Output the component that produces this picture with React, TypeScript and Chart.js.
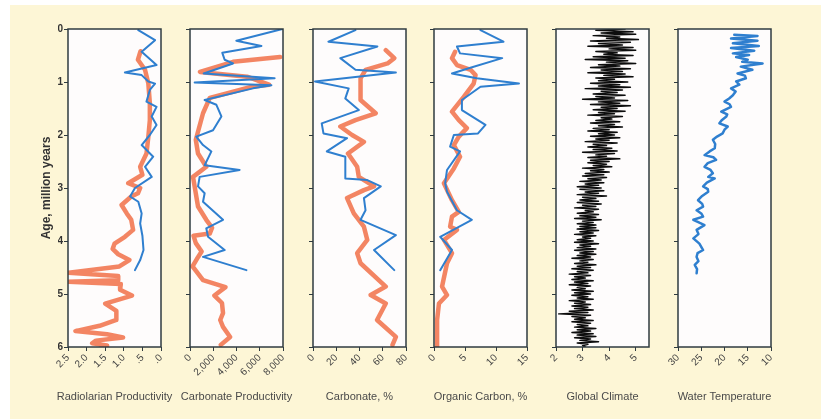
import React, { useEffect, useRef } from 'react';
import { Chart, registerables } from 'chart.js';
Chart.register(...registerables);

// ---------- Data ----------
const AGE_TICKS = [0, 1, 2, 3, 4, 5, 6];

// Panel 1: Radiolarian productivity
const radBlueAge = [0.02, 0.21, 0.43, 0.68, 0.82, 0.87, 0.99, 1.03, 1.15, 1.37, 1.47, 1.65, 1.81, 2.0, 2.19, 2.41, 2.6, 2.79, 3.0, 3.16, 3.26, 3.48, 3.67, 3.9, 4.17, 4.36, 4.55];
const radBlueVal = [0.61, 0.16, 0.52, 0.12, 0.97, 0.52, 0.34, 0.16, 0.30, 0.39, 0.12, 0.25, 0.12, 0.30, 0.52, 0.21, 0.43, 0.25, 0.70, 0.83, 0.61, 0.52, 0.56, 0.50, 0.47, 0.56, 0.70];
const radOrangeAge = [0.42, 0.58, 0.77, 1.03, 1.4, 1.72, 2.03, 2.35, 2.6, 2.75, 2.91, 3.0, 3.1, 3.16, 3.32, 3.48, 3.6, 3.79, 3.92, 4.05, 4.15, 4.25, 4.36, 4.48, 4.6, 4.66, 4.74, 4.77, 4.81, 4.92, 5.03, 5.18, 5.32, 5.49, 5.6, 5.7, 5.76, 5.82, 5.88, 5.93, 5.97, 6.0];
const radOrangeVal = [0.55, 0.62, 0.43, 0.34, 0.30, 0.30, 0.34, 0.39, 0.56, 0.50, 0.88, 0.56, 0.62, 0.80, 1.06, 0.92, 0.80, 0.75, 0.97, 1.25, 1.30, 1.15, 0.85, 1.12, 2.48, 1.15, 1.15, 2.48, 1.08, 1.10, 0.78, 1.50, 1.20, 1.20, 1.65, 2.30, 1.45, 1.02, 1.75, 1.85, 1.45, 1.60];
const radTicks = [2.5, 2.0, 1.5, 1.0, 0.5, 0];
const radLabels = ['2.5', '2.0', '1.5', '1.0', '.5', '.0'];

// Panel 2: Carbonate productivity
const cpBlueAge = [0.0, 0.22, 0.32, 0.45, 0.58, 0.65, 0.84, 0.93, 1.01, 1.06, 1.12, 1.34, 1.43, 1.65, 1.91, 2.03, 2.19, 2.31, 2.57, 2.66, 2.79, 2.97, 3.10, 3.26, 3.60, 3.76, 3.92, 4.17, 4.30, 4.55];
const cpBlueVal = [7950, 3990, 6140, 2780, 2980, 3700, 1180, 7280, 400, 7000, 5420, 1260, 2270, 2700, 1980, 540, 1120, 1840, 1260, 4270, 830, 690, 1260, 1120, 2840, 1400, 1550, 2980, 1120, 4850];
const cpOrangeAge = [0.53, 0.62, 0.81, 0.90, 1.05, 1.09, 1.30, 1.59, 2.09, 2.35, 2.60, 2.79, 3.35, 3.60, 3.75, 3.86, 3.90, 4.04, 4.20, 4.30, 4.48, 4.74, 4.87, 5.03, 5.17, 5.36, 5.49, 5.62, 5.81, 5.96];
const cpOrangeVal = [7750, 3700, 860, 4900, 6800, 5330, 1700, 1120, 500, 690, 1400, 260, 690, 1400, 1900, 1700, 300, 500, 1000, 700, 220, 1120, 3050, 2100, 2750, 2840, 2600, 2840, 3450, 2650];
const cpTicks = [0, 2000, 4000, 6000, 8000];
const cpLabels = ['0', '2,000', '4,000', '6,000', '8,000'];

// Panel 3: Carbonate %
const caBlueAge = [0.02, 0.24, 0.33, 0.55, 0.77, 0.82, 0.99, 1.12, 1.31, 1.53, 1.78, 1.97, 2.06, 2.31, 2.41, 2.82, 2.85, 2.97, 3.19, 3.42, 3.60, 3.89, 4.17, 4.55];
const caBlueVal = [36.5, 13.3, 55.4, 23.5, 36.5, 71.3, 1.7, 30.7, 27.8, 39.4, 7.5, 9.0, 29.3, 11.9, 27.8, 27.8, 46.7, 58.3, 43.8, 45.2, 40.9, 71.3, 52.5, 69.9];
const caOrangeAge = [0.40, 0.55, 0.65, 0.77, 0.93, 1.34, 1.59, 1.72, 1.84, 2.0, 2.13, 2.35, 2.60, 2.79, 2.97, 3.04, 3.19, 3.48, 3.73, 3.98, 4.23, 4.42, 4.86, 5.02, 5.18, 5.49, 5.81, 5.96];
const caOrangeVal = [62.6, 69.9, 64.1, 45.2, 40.9, 40.9, 53.9, 36.5, 23.5, 33.6, 43.8, 30.1, 38.0, 39.4, 52.5, 43.8, 29.3, 35.1, 43.8, 46.7, 38.0, 40.9, 62.6, 49.6, 62.6, 55.1, 71.3, 68.4];
const caTicks = [0, 20, 40, 60, 80];
const caLabels = ['0', '20', '40', '60', '80'];

// Panel 4: Organic carbon %
const ocBlueAge = [0.02, 0.24, 0.33, 0.46, 0.55, 0.74, 0.84, 0.93, 1.03, 1.09, 1.34, 1.53, 1.81, 1.97, 2.0, 2.22, 2.31, 2.66, 2.91, 3.07, 3.42, 3.60, 3.92, 4.17, 4.55];
const ocBlueVal = [7.5, 11.2, 3.7, 4.2, 11.0, 5.6, 2.9, 6.9, 13.7, 7.5, 4.5, 4.5, 8.3, 7.1, 3.2, 2.6, 4.2, 2.1, 1.8, 2.1, 3.7, 6.1, 1.0, 2.9, 1.0];
const ocOrangeAge = [0.43, 0.55, 0.68, 0.77, 0.87, 1.03, 1.28, 1.56, 1.72, 1.87, 2.03, 2.19, 2.41, 2.63, 2.91, 3.23, 3.45, 3.54, 3.73, 3.79, 3.98, 4.23, 4.42, 4.86, 5.02, 5.18, 5.49, 5.87, 5.98];
const ocOrangeVal = [3.4, 2.9, 3.7, 5.9, 6.7, 6.4, 4.8, 2.9, 4.0, 5.3, 4.0, 3.2, 4.2, 3.2, 1.6, 2.9, 4.0, 2.9, 2.6, 3.7, 1.6, 2.9, 2.1, 1.3, 2.1, 0.8, 0.5, 0.5, 0.5];
const ocTicks = [0, 5, 10, 15];
const ocLabels = ['0', '5', '10', '15'];

// Panel 5: Global climate (sampled every 0.025 Myr from 0 to 6)
const CLIMATE_STEP = 0.025;
const climateVal = [
  4.6, 3.5, 4.9, 3.7, 5.0, 3.4, 4.4, 3.9, 5.1, 3.3,
  4.8, 3.6, 4.5, 3.2, 4.9, 4.0, 5.0, 3.5, 4.3, 3.8,
  4.9, 3.4, 4.6, 3.1, 4.7, 3.9, 5.0, 3.6, 4.4, 3.3,
  4.8, 3.7, 4.5, 3.2, 4.6, 3.8, 4.9, 3.5, 4.2, 3.6,
  4.7, 3.3, 4.4, 3.6, 4.8, 3.1, 4.5, 3.7, 4.3, 3.4,
  4.6, 3.5, 4.2, 3.0, 4.7, 3.6, 4.4, 3.3, 4.8, 3.7,
  4.3, 3.4, 4.6, 3.6, 4.2, 3.2, 4.5, 3.7, 4.1, 3.5,
  4.4, 3.3, 4.2, 3.6, 4.5, 3.4, 4.0, 3.2, 4.3, 3.6,
  4.2, 3.3, 4.4, 3.5, 4.0, 3.1, 4.3, 3.4, 3.9, 3.2,
  4.1, 3.4, 4.3, 3.0, 4.2, 3.5, 3.9, 3.2, 4.4, 3.3,
  4.0, 3.2, 3.9, 3.4, 4.1, 3.0, 3.8, 3.3, 4.0, 3.1,
  3.8, 3.0, 3.9, 3.2, 3.7, 2.9, 3.8, 3.1, 3.6, 2.8,
  3.7, 2.9, 3.8, 3.1, 3.6, 2.8, 3.9, 3.0, 3.5, 2.9,
  3.6, 2.8, 3.7, 3.0, 3.5, 2.7, 3.6, 3.1, 3.4, 2.8,
  3.6, 2.9, 3.5, 2.7, 3.7, 3.0, 3.4, 2.8, 3.5, 2.9,
  3.5, 2.8, 3.6, 2.9, 3.4, 2.7, 3.5, 3.0, 3.3, 2.8,
  3.4, 2.7, 3.6, 2.9, 3.3, 2.8, 3.5, 2.7, 3.4, 2.9,
  3.5, 2.8, 3.3, 2.6, 3.4, 2.9, 3.2, 2.7, 3.5, 2.8,
  3.3, 2.6, 3.4, 2.8, 3.2, 2.5, 3.3, 2.7, 3.1, 2.6,
  3.4, 2.7, 3.2, 2.5, 3.3, 2.8, 3.1, 2.6, 3.4, 2.7,
  3.3, 2.6, 3.2, 2.8, 3.4, 2.5, 3.1, 2.7, 3.3, 2.6,
  3.2, 2.7, 3.4, 2.5, 3.2, 2.1, 3.3, 2.6, 3.1, 2.7,
  3.4, 2.6, 3.3, 2.8, 3.2, 2.7, 3.5, 2.8, 3.3, 2.6,
  3.4, 2.8, 3.5, 2.7, 3.3, 2.9, 3.6, 2.8, 3.2, 3.0,
  3.1,
];
const climateTicks = [2, 3, 4, 5];
const climateLabels = ['2', '3', '4', '5'];

// Panel 6: Water temperature
const wtAge = [0.11, 0.13, 0.18, 0.22, 0.27, 0.32, 0.36, 0.41, 0.46, 0.49, 0.53, 0.58, 0.62, 0.65, 0.71, 0.77, 0.84, 0.88, 0.93, 0.99, 1.05, 1.12, 1.18, 1.25, 1.31, 1.37, 1.42, 1.47, 1.52, 1.56, 1.61, 1.65, 1.72, 1.78, 1.84, 1.90, 1.97, 2.03, 2.09, 2.17, 2.25, 2.31, 2.38, 2.42, 2.47, 2.53, 2.60, 2.66, 2.72, 2.79, 2.82, 2.90, 2.97, 3.02, 3.07, 3.15, 3.23, 3.30, 3.35, 3.42, 3.48, 3.54, 3.60, 3.66, 3.70, 3.79, 3.87, 3.95, 4.05, 4.17, 4.23, 4.30, 4.38, 4.45, 4.53, 4.61];
const wtVal = [17.9, 12.9, 18.6, 12.9, 18.2, 12.6, 18.6, 13.6, 18.2, 14.7, 17.5, 15.0, 16.2, 11.8, 16.5, 14.0, 17.2, 15.6, 15.4, 17.5, 16.8, 18.6, 17.6, 18.2, 19.0, 20.0, 18.9, 18.6, 19.8, 20.7, 19.4, 19.6, 20.6, 21.1, 19.3, 20.0, 20.4, 21.6, 22.5, 22.0, 22.1, 23.2, 24.3, 22.4, 21.8, 23.6, 24.3, 23.0, 22.5, 23.5, 22.1, 23.8, 24.6, 23.6, 23.5, 24.8, 25.7, 24.8, 24.6, 26.0, 25.0, 24.6, 26.7, 25.3, 24.3, 26.0, 25.6, 26.7, 25.4, 24.6, 25.8, 26.0, 25.6, 26.4, 25.9, 26.0];
const wtTicks = [30, 25, 20, 15, 10];
const wtLabels = ['30', '25', '20', '15', '10'];

// ---------- Layout / style ----------
const PANEL_TOP = 29;
const PANEL_BOTTOM = 347;
const PANEL_W = 93;
const CANVAS_H = 419;
const SIDE = 50;
const Y_TITLE_X = 47;
const ORANGE = 'rgba(241,112,72,0.85)';
const BLUE = '#2f7fcf';
const FRAME = '#2f3b40';
const FONT = 'Arial, "Liberation Sans", sans-serif';

const pts = (ages: number[], vals: number[]) => ages.map((a, i) => ({ x: vals[i], y: a }));

type Series = { data: { x: number; y: number }[]; color: string; width: number };
type PanelCfg = {
  left: number; min: number; max: number; reverse: boolean;
  ticks: number[]; labels: string[]; title: string; yLabels: boolean; series: Series[];
};

const panels: PanelCfg[] = [
  { left: 68, min: 0, max: 2.5, reverse: true, ticks: radTicks, labels: radLabels, title: 'Radiolarian Productivity', yLabels: true,
    series: [{ data: pts(radBlueAge, radBlueVal), color: BLUE, width: 2 }, { data: pts(radOrangeAge, radOrangeVal), color: ORANGE, width: 4.5 }] },
  { left: 190, min: 0, max: 8000, reverse: false, ticks: cpTicks, labels: cpLabels, title: 'Carbonate Productivity', yLabels: false,
    series: [{ data: pts(cpBlueAge, cpBlueVal), color: BLUE, width: 2 }, { data: pts(cpOrangeAge, cpOrangeVal), color: ORANGE, width: 4.5 }] },
  { left: 313, min: 0, max: 80, reverse: false, ticks: caTicks, labels: caLabels, title: 'Carbonate, %', yLabels: false,
    series: [{ data: pts(caBlueAge, caBlueVal), color: BLUE, width: 2 }, { data: pts(caOrangeAge, caOrangeVal), color: ORANGE, width: 4.5 }] },
  { left: 434, min: 0, max: 15, reverse: false, ticks: ocTicks, labels: ocLabels, title: 'Organic Carbon, %', yLabels: false,
    series: [{ data: pts(ocBlueAge, ocBlueVal), color: BLUE, width: 2 }, { data: pts(ocOrangeAge, ocOrangeVal), color: ORANGE, width: 4.5 }] },
  { left: 556, min: 2, max: 5.5, reverse: false, ticks: climateTicks, labels: climateLabels, title: 'Global Climate', yLabels: false,
    series: [{ data: climateVal.map((v, i) => ({ x: v, y: i * CLIMATE_STEP })), color: 'rgba(0,0,0,0.95)', width: 1.5 }] },
  { left: 678, min: 10, max: 30, reverse: true, ticks: wtTicks, labels: wtLabels, title: 'Water Temperature', yLabels: false,
    series: [{ data: pts(wtAge, wtVal), color: BLUE, width: 2.5 }] },
];

const framePlugin = {
  id: 'panelFrame',
  beforeDraw(chart: any) {
    const { ctx, chartArea: a } = chart;
    ctx.save();
    ctx.fillStyle = '#fefcfc';
    ctx.fillRect(a.left, a.top, a.right - a.left, a.bottom - a.top);
    ctx.restore();
  },
  afterDraw(chart: any, _args: any, opts: any) {
    const { ctx, chartArea: a } = chart;
    ctx.save();
    ctx.strokeStyle = FRAME;
    ctx.lineWidth = 1.5;
    ctx.strokeRect(a.left, a.top, a.right - a.left, a.bottom - a.top);
    ctx.fillStyle = '#4a4a4a';
    ctx.font = `11px ${FONT}`;
    ctx.textAlign = 'center';
    ctx.textBaseline = 'middle';
    ctx.fillText(opts.xTitle, (a.left + a.right) / 2, 397);
    if (opts.yTitle) {
      ctx.translate(opts.yTitleX, (a.top + a.bottom) / 2);
      ctx.rotate(-Math.PI / 2);
      ctx.fillStyle = '#333';
      ctx.font = `bold 12px ${FONT}`;
      ctx.fillText(opts.yTitle, 0, 0);
    }
    ctx.restore();
  },
};

function Panel({ cfg }: { cfg: PanelCfg }) {
  const ref = useRef<HTMLCanvasElement>(null);
  const canvasLeft = cfg.left - SIDE;
  useEffect(() => {
    const chart = new Chart(ref.current as HTMLCanvasElement, {
      type: 'scatter',
      data: {
        datasets: cfg.series.map((s) => ({
          data: s.data,
          showLine: true,
          borderColor: s.color,
          backgroundColor: s.color,
          borderWidth: s.width,
          pointRadius: 0,
          tension: 0,
          borderJoinStyle: 'round' as const,
          borderCapStyle: 'round' as const,
        })),
      },
      options: {
        animation: false,
        responsive: false,
        devicePixelRatio: 1,
        events: [],
        layout: { padding: { left: SIDE - 10, right: SIDE, top: PANEL_TOP, bottom: 0 } },
        plugins: {
          legend: { display: false },
          tooltip: { enabled: false },
          panelFrame: {
            xTitle: cfg.title,
            yTitle: cfg.yLabels ? 'Age, million years' : '',
            yTitleX: Y_TITLE_X - canvasLeft,
          },
        } as any,
        scales: {
          x: {
            type: 'linear',
            min: cfg.min,
            max: cfg.max,
            reverse: cfg.reverse,
            afterBuildTicks: (s: any) => { s.ticks = cfg.ticks.map((v) => ({ value: v })); },
            afterFit: (s: any) => { s.height = CANVAS_H - PANEL_BOTTOM; },
            grid: { drawOnChartArea: false, drawTicks: true, tickLength: 4, color: FRAME, lineWidth: 1 },
            border: { display: false },
            ticks: {
              autoSkip: false,
              minRotation: 45,
              maxRotation: 45,
              padding: 1,
              color: '#444',
              font: { size: 10, family: FONT },
              callback: (v: any) => {
                const i = cfg.ticks.indexOf(Number(v));
                return i >= 0 ? cfg.labels[i] : '';
              },
            },
          },
          y: {
            type: 'linear',
            min: 0,
            max: 6,
            reverse: true,
            afterBuildTicks: (s: any) => { s.ticks = AGE_TICKS.map((v) => ({ value: v })); },
            afterFit: (s: any) => { s.width = 10; },
            grid: { drawOnChartArea: false, drawTicks: true, tickLength: 4, color: FRAME, lineWidth: 1 },
            border: { display: false },
            ticks: {
              padding: 1,
              color: '#333',
              font: { size: 10, weight: 'bold', family: FONT },
              callback: (v: any) => (cfg.yLabels ? String(v) : ''),
            },
          },
        },
      },
      plugins: [framePlugin],
    } as any);
    return () => chart.destroy();
  }, []);
  return (
    <canvas
      ref={ref}
      width={PANEL_W + 2 * SIDE}
      height={CANVAS_H}
      style={{ position: 'absolute', left: canvasLeft, top: 0, width: PANEL_W + 2 * SIDE, height: CANVAS_H }}
    />
  );
}

export default function App() {
  return (
    <div style={{ position: 'absolute', left: 0, top: 0, width: 821, height: 419, background: '#ffffff', overflow: 'hidden' }}>
      <div style={{ position: 'absolute', left: 10, top: 5, right: 0, bottom: 0, background: '#fdf6d6' }} />
      {panels.map((p, i) => (
        <Panel key={i} cfg={p} />
      ))}
    </div>
  );
}
